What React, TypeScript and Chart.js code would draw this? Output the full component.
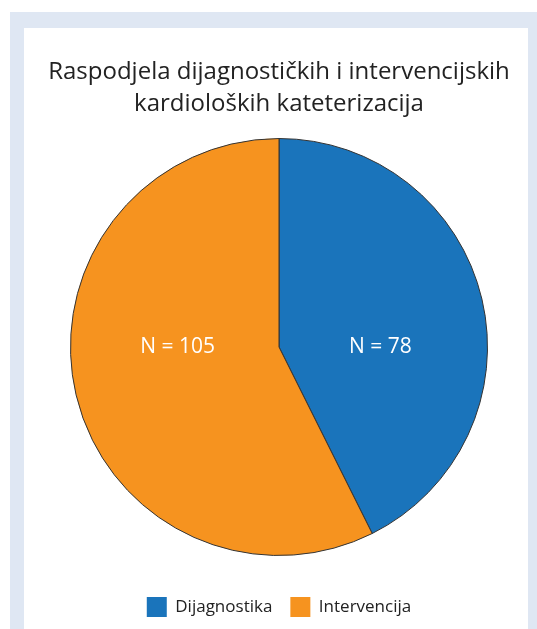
import React, { useEffect, useRef } from "react";
import { Chart, registerables } from "chart.js";

Chart.register(...registerables);

const categories = ["Dijagnostika", "Intervencija"];
const values = [78, 105];
const sliceLabels = ["N = 78", "N = 105"];
const colors = ["#1a74bb", "#f6931f"];
const titleLines = ["Raspodjela dijagnostičkih i intervencijskih", "kardioloških kateterizacija"];

const FONT = "'Open Sans', sans-serif";

const sliceLabelPlugin = {
  id: "sliceLabels",
  afterDatasetsDraw(chart: any) {
    const { ctx } = chart;
    const meta = chart.getDatasetMeta(0);
    ctx.save();
    ctx.fillStyle = "#ffffff";
    ctx.font = `21px ${FONT}`;
    ctx.textAlign = "center";
    ctx.textBaseline = "middle";
    meta.data.forEach((arc: any, i: number) => {
      const pos = arc.tooltipPosition();
      ctx.fillText(sliceLabels[i], pos.x, arc.y);
    });
    ctx.restore();
  },
};

export default function App() {
  const ref = useRef<HTMLCanvasElement>(null);
  useEffect(() => {
    if (!ref.current) return;
    const chart = new Chart(ref.current, {
      type: "pie",
      data: {
        labels: categories,
        datasets: [
          {
            data: values,
            backgroundColor: colors,
            borderColor: "#333333",
            borderWidth: 1,
          },
        ],
      },
      options: {
        animation: false,
        responsive: false,
        maintainAspectRatio: false,
        layout: { padding: { left: 6, right: 0, top: 0, bottom: 2 } },
        plugins: {
          title: {
            display: true,
            text: titleLines,
            color: "#222222",
            font: { family: FONT, size: 24, weight: "normal", lineHeight: 32 / 24 },
            padding: { top: 28, bottom: 18 },
          },
          legend: {
            position: "bottom",
            title: {
              display: true,
              text: "",
              font: { size: 1, lineHeight: 1 },
              padding: { top: 22, bottom: 0 },
            },
            labels: {
              boxWidth: 20,
              boxHeight: 20,
              padding: 18,
              color: "#222222",
              font: { family: FONT, size: 17 },
              generateLabels: () =>
                categories.map((c, i) => ({
                  text: c,
                  fillStyle: colors[i],
                  strokeStyle: colors[i],
                  lineWidth: 0,
                  fontColor: "#222222",
                  hidden: false,
                  index: i,
                })),
            },
          },
          tooltip: { enabled: false },
        },
      },
      plugins: [sliceLabelPlugin],
    });
    return () => chart.destroy();
  }, []);

  return (
    <div
      style={{
        position: "absolute",
        left: 10,
        top: 12,
        width: 527,
        height: 617,
        background: "#dfe7f3",
        overflow: "hidden",
      }}
    >
      <div
        style={{
          position: "absolute",
          left: 14,
          top: 16,
          width: 504,
          height: 601,
          background: "#ffffff",
        }}
      >
        <canvas ref={ref} width={504} height={601} style={{ display: "block" }} />
      </div>
    </div>
  );
}
